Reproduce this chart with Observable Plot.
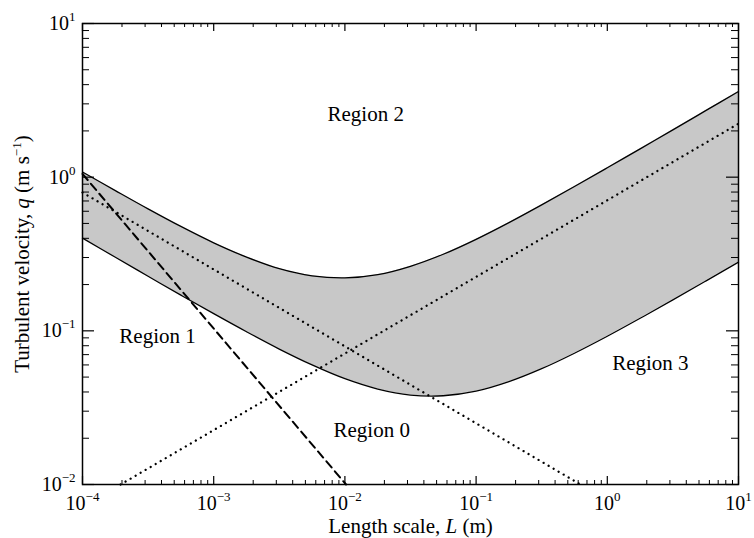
<!DOCTYPE html>
<html><head><meta charset="utf-8">
<script src="https://cdn.jsdelivr.net/npm/d3@7"></script>
<script src="https://cdn.jsdelivr.net/npm/@observablehq/plot@0.6"></script>
<style>
body{margin:0;background:#fff}
#chart svg{font-family:"Liberation Serif",serif}
</style>
</head><body><div id="chart"></div>
<script>
// Length scale L (m) sampled along the two band boundaries
const lengthScale = [1e-4, 1.78e-4, 3.16e-4, 5.62e-4, 1e-3, 1.78e-3, 3.16e-3, 5.62e-3, 1e-2, 1.78e-2, 3.16e-2, 5.62e-2, 0.1, 0.178, 0.316, 0.562, 1, 1.78, 3.16, 5.62, 10];
// upper boundary of shaded band, q (m/s)
const upperQ = [1.081, 0.818, 0.622, 0.478, 0.374, 0.302, 0.254, 0.228, 0.221, 0.232, 0.263, 0.315, 0.394, 0.506, 0.660, 0.869, 1.151, 1.528, 2.033, 2.708, 3.608];
// lower boundary of shaded band, q (m/s)
const lowerQ = [0.4009, 0.3011, 0.2265, 0.1708, 0.1293, 0.0986, 0.0761, 0.0600, 0.0488, 0.0418, 0.0382, 0.0378, 0.0405, 0.0467, 0.0567, 0.0715, 0.0922, 0.1207, 0.1591, 0.2108, 0.2802];

// straight reference lines (end points)
const dashedL = [1e-4, 1.02e-2];
const dashedQ = [1.05, 0.01];
const dotDownL = [1e-4, 0.625];
const dotDownQ = [0.795, 0.01];
const dotUpL = [1.95e-4, 10];
const dotUpQ = [0.01, 2.23];

// region annotations
const regionNames = ["Region 0", "Region 1", "Region 2", "Region 3"];
const regionL = [0.016, 3.73e-4, 0.0144, 2.13];
const regionQ = [0.0225, 0.092, 2.56, 0.0614];

// tick values
const xMajor = [1e-4, 1e-3, 1e-2, 1e-1, 1, 10];
const yMajor = [1e-2, 1e-1, 1, 10];
const minorMult = [2, 3, 4, 5, 6, 7, 8, 9];

const xTitle = "Length scale, L (m)";
const yTitle = "Turbulent velocity, q (m s^-1)";

// build tables
const band = lengthScale.map((L, i) => ({L, hi: upperQ[i], lo: lowerQ[i]}));
const dashed = dashedL.map((L, i) => ({L, q: dashedQ[i]}));
const dotDown = dotDownL.map((L, i) => ({L, q: dotDownQ[i]}));
const dotUp = dotUpL.map((L, i) => ({L, q: dotUpQ[i]}));
const regions = regionNames.map((name, i) => ({name, L: regionL[i], q: regionQ[i]}));
const xMinor = xMajor.slice(0, -1).flatMap(d => minorMult.map(m => d * m));
const yMinor = yMajor.slice(0, -1).flatMap(d => minorMult.map(m => d * m));

const W = 754, H = 538, mL = 82, mR = 16, mT = 23, mB = 54;
const pw = W - mL - mR, ph = H - mT - mB;
const expFmt = d => "10^" + Math.round(Math.log10(d));

const chart = Plot.plot({
  width: W, height: H,
  marginLeft: mL, marginRight: mR, marginTop: mT, marginBottom: mB,
  style: {fontFamily: "Liberation Serif, serif", fontSize: "20px", background: "white", color: "black"},
  x: {type: "log", domain: [1e-4, 10]},
  y: {type: "log", domain: [1e-2, 10]},
  marks: [
    Plot.areaY(band, {x: "L", y1: "lo", y2: "hi", fill: "#c8c8c8", curve: "catmull-rom"}),
    Plot.line(band, {x: "L", y: "hi", stroke: "black", strokeWidth: 1.3, curve: "catmull-rom"}),
    Plot.line(band, {x: "L", y: "lo", stroke: "black", strokeWidth: 1.3, curve: "catmull-rom"}),
    Plot.line(dotDown, {x: "L", y: "q", stroke: "black", strokeWidth: 2.3, strokeDasharray: "0.01 5.8", strokeLinecap: "round"}),
    Plot.line(dotUp, {x: "L", y: "q", stroke: "black", strokeWidth: 2.3, strokeDasharray: "0.01 5.8", strokeLinecap: "round"}),
    Plot.line(dashed, {x: "L", y: "q", stroke: "black", strokeWidth: 2, strokeDasharray: "8 5"}),
    // inward ticks on all four sides
    Plot.tickX(xMajor, {x: d => d, insetTop: ph - 8, stroke: "black", strokeWidth: 1.2}),
    Plot.tickX(xMinor, {x: d => d, insetTop: ph - 4, stroke: "black", strokeWidth: 1}),
    Plot.tickX(xMajor, {x: d => d, insetBottom: ph - 8, stroke: "black", strokeWidth: 1.2}),
    Plot.tickX(xMinor, {x: d => d, insetBottom: ph - 4, stroke: "black", strokeWidth: 1}),
    Plot.tickY(yMajor, {y: d => d, insetRight: pw - 12, stroke: "black", strokeWidth: 1.2}),
    Plot.tickY(yMinor, {y: d => d, insetRight: pw - 7, stroke: "black", strokeWidth: 1}),
    Plot.tickY(yMajor, {y: d => d, insetLeft: pw - 12, stroke: "black", strokeWidth: 1.2}),
    Plot.tickY(yMinor, {y: d => d, insetLeft: pw - 7, stroke: "black", strokeWidth: 1}),
    Plot.axisX(xMajor, {tickSize: 0, tickPadding: 11, tickFormat: expFmt, fontSize: 20, label: null}),
    Plot.axisY(yMajor, {tickSize: 0, tickPadding: 7, tickFormat: expFmt, fontSize: 20, label: null}),
    Plot.frame({stroke: "black", strokeWidth: 1.5}),
    Plot.text(regions, {x: "L", y: "q", text: "name", fontSize: 21, fill: "black"}),
    Plot.text([xTitle], {text: d => d, frameAnchor: "bottom", lineAnchor: "middle", dy: 42, fontSize: 21, fill: "black"}),
    Plot.text([yTitle], {text: d => d, frameAnchor: "left", textAnchor: "middle", lineAnchor: "middle", dx: -60, rotate: -90, fontSize: 21, fill: "black"})
  ]
});

// typographic post-processing: superscripts and italics
chart.querySelectorAll("text").forEach(t => {
  const s = t.textContent;
  const m = /^10\^(-?\d+)$/.exec(s);
  if (m) {
    t.textContent = "";
    const sel = d3.select(t);
    sel.append("tspan").text("10");
    sel.append("tspan").attr("font-size", 13).attr("dy", -9).text(m[1].replace("-", "\u2212"));
  } else if (s === xTitle) {
    t.textContent = "";
    const sel = d3.select(t);
    sel.append("tspan").text("Length scale, ");
    sel.append("tspan").attr("font-style", "italic").text("L");
    sel.append("tspan").text(" (m)");
  } else if (s === yTitle) {
    t.textContent = "";
    const sel = d3.select(t);
    sel.append("tspan").text("Turbulent velocity, ");
    sel.append("tspan").attr("font-style", "italic").text("q");
    sel.append("tspan").text(" (m s");
    sel.append("tspan").attr("font-size", 13).attr("dy", -8).text("\u22121");
    sel.append("tspan").attr("dy", 8).text(")");
  }
});

document.getElementById("chart").appendChild(chart);
</script>
</body></html>
